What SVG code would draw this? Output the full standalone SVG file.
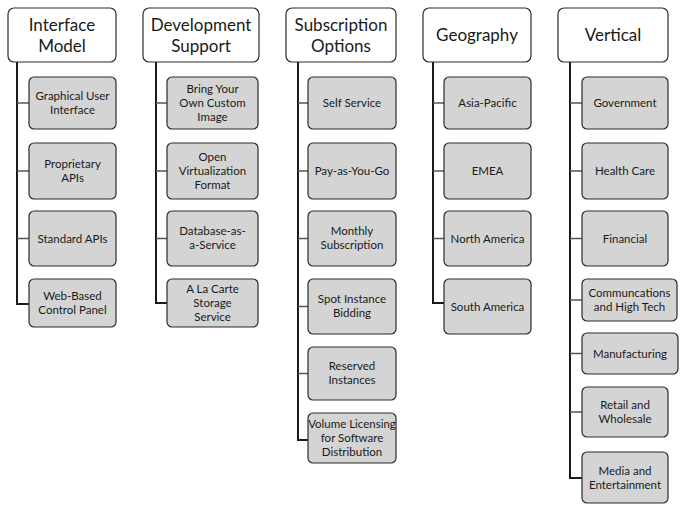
<svg xmlns="http://www.w3.org/2000/svg" width="682" height="505" viewBox="0 0 682 505">
<style>
.hdr{fill:#ffffff;stroke:#2b2b2b;stroke-width:1.2}
.box{fill:#d4d4d4;stroke:#2b2b2b;stroke-width:1.2}
.ht{font-family:Lato,"Open Sans",sans-serif;font-size:17px;fill:#1a1a1a;text-anchor:middle}
.ct{font-family:Lato,"Open Sans",sans-serif;font-size:11.5px;fill:#1a1a1a;text-anchor:middle}
.v{stroke:#1a1a1a;stroke-width:2;fill:none}
.h{stroke:#555;stroke-width:1.3;fill:none}
</style>
<rect width="682" height="505" fill="#ffffff"/>
<g id="connectors">
<path class="v" d="M17,62V304H29"/>
<path class="h" d="M17,103H29M17,171H29M17,238.5H29"/>
<path class="v" d="M156,62V303H167"/>
<path class="h" d="M156,103H167M156,171H167M156,238.5H167"/>
<path class="v" d="M298,62V440H308"/>
<path class="h" d="M298,103H308M298,171H308M298,238.5H308M298,306.5H308M298,373.5H308"/>
<path class="v" d="M433,62V303H444"/>
<path class="h" d="M433,103H444M433,171H444M433,238.5H444"/>
<path class="v" d="M570,62V478H582"/>
<path class="h" d="M570,103H582M570,171H582M570,238.5H582M570,300H582M570,353.5H582M570,412H582"/>
</g>
<g id="interface-model"><rect class="hdr" x="8" y="8" width="108" height="54" rx="6"/><text class="ht" x="62" y="31">Interface</text><text class="ht" x="62" y="52">Model</text></g>
<g id="gui"><rect class="box" x="29" y="77" width="87" height="52" rx="5"/><text class="ct" x="72.5" y="100">Graphical User</text><text class="ct" x="72.5" y="114">Interface</text></g>
<g id="proprietary-apis"><rect class="box" x="29" y="143" width="87" height="56" rx="5"/><text class="ct" x="72.5" y="168">Proprietary</text><text class="ct" x="72.5" y="182">APIs</text></g>
<g id="standard-apis"><rect class="box" x="29" y="211" width="87" height="55" rx="5"/><text class="ct" x="72.5" y="242.5">Standard APIs</text></g>
<g id="web-based"><rect class="box" x="29" y="279" width="87" height="48" rx="5"/><text class="ct" x="72.5" y="300">Web-Based</text><text class="ct" x="72.5" y="314">Control Panel</text></g>

<g id="development-support"><rect class="hdr" x="143" y="8" width="116" height="54" rx="6"/><text class="ht" x="201" y="31">Development</text><text class="ht" x="201" y="52">Support</text></g>
<g id="byo-image"><rect class="box" x="167" y="77" width="91" height="52" rx="5"/><text class="ct" x="212.5" y="93">Bring Your</text><text class="ct" x="212.5" y="107">Own Custom</text><text class="ct" x="212.5" y="121">Image</text></g>
<g id="ovf"><rect class="box" x="167" y="143" width="91" height="56" rx="5"/><text class="ct" x="212.5" y="161">Open</text><text class="ct" x="212.5" y="175">Virtualization</text><text class="ct" x="212.5" y="189">Format</text></g>
<g id="dbaas"><rect class="box" x="167" y="211" width="91" height="55" rx="5"/><text class="ct" x="212.5" y="235">Database-as-</text><text class="ct" x="212.5" y="249">a-Service</text></g>
<g id="alacarte"><rect class="box" x="167" y="279" width="91" height="48" rx="5"/><text class="ct" x="212.5" y="293">A La Carte</text><text class="ct" x="212.5" y="307">Storage</text><text class="ct" x="212.5" y="321">Service</text></g>

<g id="subscription-options"><rect class="hdr" x="286" y="8" width="110" height="54" rx="6"/><text class="ht" x="341" y="31">Subscription</text><text class="ht" x="341" y="52">Options</text></g>
<g id="self-service"><rect class="box" x="308" y="77" width="88" height="52" rx="5"/><text class="ct" x="352" y="107">Self Service</text></g>
<g id="payg"><rect class="box" x="308" y="143" width="88" height="56" rx="5"/><text class="ct" x="352" y="175">Pay-as-You-Go</text></g>
<g id="monthly"><rect class="box" x="308" y="211" width="88" height="55" rx="5"/><text class="ct" x="352" y="235">Monthly</text><text class="ct" x="352" y="249">Subscription</text></g>
<g id="spot"><rect class="box" x="308" y="279" width="88" height="55" rx="5"/><text class="ct" x="352" y="303">Spot Instance</text><text class="ct" x="352" y="317">Bidding</text></g>
<g id="reserved"><rect class="box" x="308" y="347" width="88" height="53" rx="5"/><text class="ct" x="352" y="370">Reserved</text><text class="ct" x="352" y="384">Instances</text></g>
<g id="volume"><rect class="box" x="308" y="413" width="88" height="50" rx="5"/><text class="ct" x="352" y="428">Volume Licensing</text><text class="ct" x="352" y="442">for Software</text><text class="ct" x="352" y="456">Distribution</text></g>

<g id="geography"><rect class="hdr" x="423" y="8" width="108" height="54" rx="6"/><text class="ht" x="477" y="41">Geography</text></g>
<g id="apac"><rect class="box" x="444" y="77" width="87" height="52" rx="5"/><text class="ct" x="487.5" y="107">Asia-Pacific</text></g>
<g id="emea"><rect class="box" x="444" y="143" width="87" height="56" rx="5"/><text class="ct" x="487.5" y="175">EMEA</text></g>
<g id="north-america"><rect class="box" x="444" y="211" width="87" height="55" rx="5"/><text class="ct" x="487.5" y="242.5">North America</text></g>
<g id="south-america"><rect class="box" x="444" y="279" width="87" height="55" rx="5"/><text class="ct" x="487.5" y="310.5">South America</text></g>

<g id="vertical"><rect class="hdr" x="558" y="8" width="110" height="54" rx="6"/><text class="ht" x="613" y="41">Vertical</text></g>
<g id="government"><rect class="box" x="582" y="77" width="86" height="52" rx="5"/><text class="ct" x="625" y="107">Government</text></g>
<g id="health-care"><rect class="box" x="582" y="143" width="86" height="56" rx="5"/><text class="ct" x="625" y="175">Health Care</text></g>
<g id="financial"><rect class="box" x="582" y="211" width="86" height="55" rx="5"/><text class="ct" x="625" y="242.5">Financial</text></g>
<g id="communications"><rect class="box" x="582" y="279" width="95" height="42" rx="5"/><text class="ct" x="629.5" y="297">Communcations</text><text class="ct" x="629.5" y="311">and High Tech</text></g>
<g id="manufacturing"><rect class="box" x="582" y="333" width="96" height="41" rx="5"/><text class="ct" x="630" y="357.5">Manufacturing</text></g>
<g id="retail"><rect class="box" x="582" y="387" width="86" height="50" rx="5"/><text class="ct" x="625" y="409">Retail and</text><text class="ct" x="625" y="423">Wholesale</text></g>
<g id="media"><rect class="box" x="582" y="452" width="86" height="51" rx="5"/><text class="ct" x="625" y="475">Media and</text><text class="ct" x="625" y="489">Entertainment</text></g>
</svg>
